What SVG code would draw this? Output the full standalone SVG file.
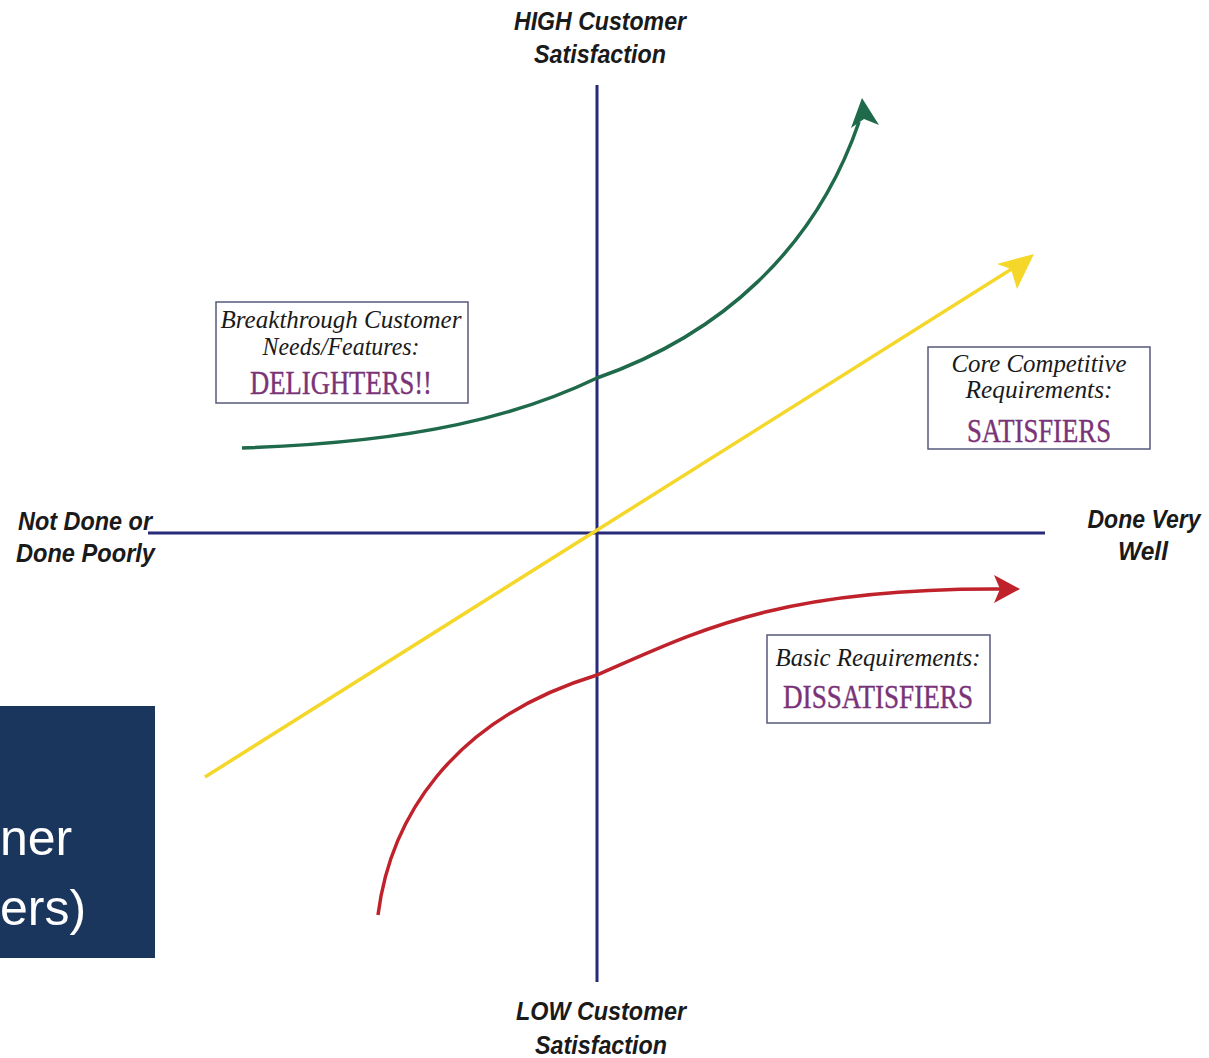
<svg xmlns="http://www.w3.org/2000/svg" width="1209" height="1058" viewBox="0 0 1209 1058">
<style>
.ax{font-family:"Liberation Sans",Arial,sans-serif;font-weight:bold;font-style:italic;font-size:26px;fill:#1a1a1a}
.it{font-family:"Liberation Serif","Times New Roman",serif;font-style:italic;font-size:25px;fill:#1a1a1a}
.big{font-family:"Liberation Serif","Times New Roman",serif;font-size:33px;fill:#7a3378;stroke:#7a3378;stroke-width:0.4}
.box{fill:#fff;stroke:#555a7a;stroke-width:1.5}
.axis{stroke:#262a78;stroke-width:3;fill:none}
</style>
<rect width="1209" height="1058" fill="#fff"/>
<g id="axes">
<line class="axis" x1="597" y1="85" x2="597" y2="982"/>
<line class="axis" x1="148" y1="533" x2="1045" y2="533"/>
</g>
<g id="connectors">
<path d="M242,448 C420,442 520,415 597,378 C720,335 815,250 859,122" fill="none" stroke="#1e6a4a" stroke-width="3.5"/>
<path d="M862,98 L879,125 L864,119 L851,128 Z" fill="#1e6a4a"/>
<line x1="205" y1="777" x2="1018" y2="265" stroke="#f4d729" stroke-width="3.5"/>
<path d="M1034,254 L1017,289 L1011,269 L997,264 Z" fill="#f4d729"/>
<path d="M378,915 C390,820 450,720 597,675 C700,630 780,588 1000,589" fill="none" stroke="#c0222c" stroke-width="3.5"/>
<path d="M1020,589 L994,603 L1000,589 L994,575 Z" fill="#c0222c"/>
</g>
<g id="label-high">
<text class="ax" x="600" y="30" text-anchor="middle" textLength="172" lengthAdjust="spacingAndGlyphs">HIGH Customer</text>
<text class="ax" x="600" y="63" text-anchor="middle" textLength="132" lengthAdjust="spacingAndGlyphs">Satisfaction</text>
</g>
<g id="label-low">
<text class="ax" x="601" y="1020" text-anchor="middle" textLength="170" lengthAdjust="spacingAndGlyphs">LOW Customer</text>
<text class="ax" x="601" y="1054" text-anchor="middle" textLength="132" lengthAdjust="spacingAndGlyphs">Satisfaction</text>
</g>
<g id="label-left">
<text class="ax" x="18" y="530" textLength="134" lengthAdjust="spacingAndGlyphs">Not Done or</text>
<text class="ax" x="16" y="562" textLength="139" lengthAdjust="spacingAndGlyphs">Done Poorly</text>
</g>
<g id="label-right">
<text class="ax" x="1144" y="528" text-anchor="middle" font-size="23" textLength="113" lengthAdjust="spacingAndGlyphs">Done Very</text>
<text class="ax" x="1143" y="560" text-anchor="middle" textLength="50" lengthAdjust="spacingAndGlyphs">Well</text>
</g>
<g id="delighters">
<rect class="box" x="216" y="302" width="252" height="101"/>
<text class="it" x="341" y="328" text-anchor="middle" textLength="241" lengthAdjust="spacingAndGlyphs">Breakthrough Customer</text>
<text class="it" x="341" y="355" text-anchor="middle" textLength="157" lengthAdjust="spacingAndGlyphs">Needs/Features:</text>
<text class="big" x="341" y="394" text-anchor="middle" textLength="182" lengthAdjust="spacingAndGlyphs">DELIGHTERS!!</text>
</g>
<g id="satisfiers">
<rect class="box" x="928" y="347" width="222" height="102"/>
<text class="it" x="1039" y="372" text-anchor="middle" textLength="175" lengthAdjust="spacingAndGlyphs">Core Competitive</text>
<text class="it" x="1039" y="398" text-anchor="middle" textLength="147" lengthAdjust="spacingAndGlyphs">Requirements:</text>
<text class="big" x="1039" y="442" text-anchor="middle" textLength="144" lengthAdjust="spacingAndGlyphs">SATISFIERS</text>
</g>
<g id="dissatisfiers">
<rect class="box" x="767" y="635" width="223" height="88"/>
<text class="it" x="878" y="666" text-anchor="middle" textLength="205" lengthAdjust="spacingAndGlyphs">Basic Requirements:</text>
<text class="big" x="878" y="708" text-anchor="middle" textLength="190" lengthAdjust="spacingAndGlyphs">DISSATISFIERS</text>
</g>
<g id="overlay">
<rect x="0" y="706" width="155" height="252" fill="#1b365d"/>
<text x="0" y="855" font-family="Liberation Sans,Arial,sans-serif" font-size="50" fill="#fff">ner</text>
<text x="0" y="925" font-family="Liberation Sans,Arial,sans-serif" font-size="50" fill="#fff">ers)</text>
</g>
</svg>
